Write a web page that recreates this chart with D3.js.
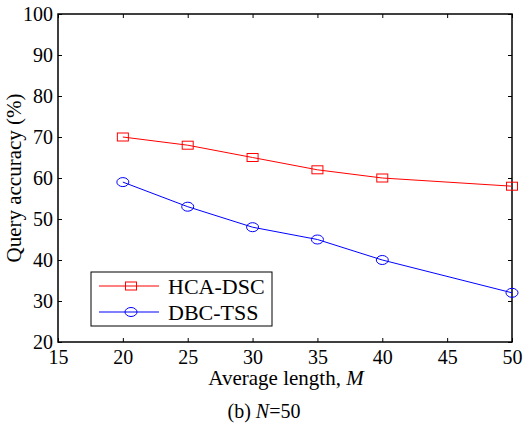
<!DOCTYPE html>
<html>
<head>
<meta charset="utf-8">
<script src="https://cdn.jsdelivr.net/npm/d3@7"></script>
<style>
  body { margin: 0; background: #fff; }
  svg text { font-family: "Liberation Serif", "Times New Roman", serif; }
</style>
</head>
<body>
<div id="chart"></div>
<script>
// data
const lengths = [20, 25, 30, 35, 40, 50];
const hcaDsc = [70, 68, 65, 62, 60, 58];
const dbcTss = [59, 53, 48, 45, 40, 32];
const xTicks = [15, 20, 25, 30, 35, 40, 45, 50];
const yTicks = [20, 30, 40, 50, 60, 70, 80, 90, 100];

const W = 524, H = 426;
const margin = {top: 14, right: 12, bottom: 84, left: 58},
    width = W - margin.left - margin.right,
    height = H - margin.top - margin.bottom;

const svg = d3.select("#chart").append("svg")
    .attr("width", W)
    .attr("height", H);

const g = svg.append("g")
    .attr("transform", "translate(" + margin.left + "," + margin.top + ")");

const x = d3.scaleLinear().domain([15, 50]).range([0, width]);
const y = d3.scaleLinear().domain([20, 100]).range([height, 0]);

// axes with inward ticks
function styleAxis(sel) {
  sel.attr("font-family", null).attr("font-size", null);
  sel.select(".domain").remove();
  sel.selectAll("line").attr("stroke", "#000");
  sel.selectAll("text")
      .style("font-family", "'Liberation Serif', serif")
      .style("font-size", "20px")
      .attr("fill", "#000");
}
g.append("g")
    .attr("transform", "translate(0," + height + ")")
    .call(d3.axisBottom(x).tickValues(xTicks).tickSizeInner(-4).tickSizeOuter(0).tickPadding(8))
    .call(styleAxis);
g.append("g")
    .call(d3.axisLeft(y).tickValues(yTicks).tickSizeInner(-4).tickSizeOuter(0).tickPadding(5))
    .call(styleAxis);
g.append("g")
    .call(d3.axisTop(x).tickValues(xTicks).tickSizeInner(-4).tickSizeOuter(0).tickFormat(""))
    .call(styleAxis);
g.append("g")
    .attr("transform", "translate(" + width + ",0)")
    .call(d3.axisRight(y).tickValues(yTicks).tickSizeInner(-4).tickSizeOuter(0).tickFormat(""))
    .call(styleAxis);

g.append("rect")
    .attr("width", width).attr("height", height)
    .attr("fill", "none").attr("stroke", "#000").attr("stroke-width", 1.5);

// series
const line = d3.line()
    .x((d, i) => x(lengths[i]))
    .y(d => y(d));

g.append("path").datum(hcaDsc)
    .attr("d", line).attr("fill", "none").attr("stroke", "#ff0000").attr("stroke-width", 1);
g.append("path").datum(dbcTss)
    .attr("d", line).attr("fill", "none").attr("stroke", "#0000ff").attr("stroke-width", 1);

g.selectAll(".sq").data(hcaDsc).enter().append("rect")
    .attr("x", (d, i) => x(lengths[i]) - 5.5)
    .attr("y", d => y(d) - 4)
    .attr("width", 11).attr("height", 8)
    .attr("fill", "none").attr("stroke", "#ff0000");
g.selectAll(".ci").data(dbcTss).enter().append("ellipse")
    .attr("cx", (d, i) => x(lengths[i]))
    .attr("cy", d => y(d))
    .attr("rx", 6).attr("ry", 4.5)
    .attr("fill", "none").attr("stroke", "#0000ff");

// legend
const leg = svg.append("g").attr("transform", "translate(91,272)");
leg.append("rect").attr("width", 181).attr("height", 54)
    .attr("fill", "#fff").attr("stroke", "#000").attr("stroke-width", 1);
const items = [
  {name: "HCA-DSC", color: "#ff0000", shape: "rect"},
  {name: "DBC-TSS", color: "#0000ff", shape: "ellipse"}
];
items.forEach((it, i) => {
  const yy = 14 + i * 26;
  leg.append("line").attr("x1", 8).attr("x2", 68).attr("y1", yy).attr("y2", yy)
      .attr("stroke", it.color);
  if (it.shape === "rect") {
    leg.append("rect").attr("x", 40 - 5.5).attr("y", yy - 4).attr("width", 11).attr("height", 8)
        .attr("fill", "none").attr("stroke", it.color);
  } else {
    leg.append("ellipse").attr("cx", 40).attr("cy", yy).attr("rx", 6).attr("ry", 4.5)
        .attr("fill", "none").attr("stroke", it.color);
  }
  leg.append("text").attr("x", 77).attr("y", yy).attr("dy", "0.35em")
      .attr("font-size", 22).text(it.name);
});

// axis titles
const xl = svg.append("text")
    .attr("x", 286).attr("y", 385)
    .attr("text-anchor", "middle").attr("font-size", 21);
xl.append("tspan").text("Average length, ");
xl.append("tspan").attr("font-style", "italic").text("M");

svg.append("text")
    .attr("transform", "translate(21,178) rotate(-90)")
    .attr("text-anchor", "middle").attr("font-size", 21)
    .text("Query accuracy (%)");

const cap = svg.append("text")
    .attr("x", 264).attr("y", 418)
    .attr("text-anchor", "middle").attr("font-size", 20);
cap.append("tspan").text("(b) ");
cap.append("tspan").attr("font-style", "italic").text("N");
cap.append("tspan").text("=50");
</script>
</body>
</html>
